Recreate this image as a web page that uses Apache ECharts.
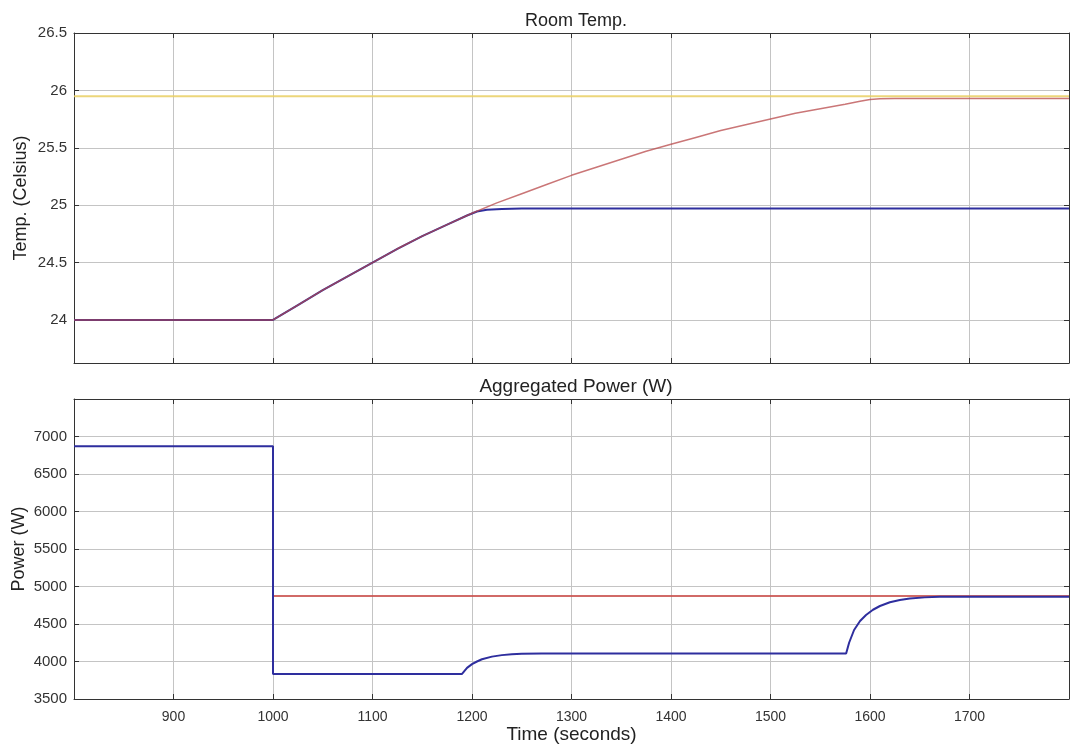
<!DOCTYPE html>
<html>
<head>
<meta charset="utf-8">
<script src="https://cdn.jsdelivr.net/npm/echarts@6/dist/echarts.min.js"></script>
<style>
html,body{margin:0;padding:0;background:#fff;}
#c{width:1073px;height:744px;}
</style>
</head>
<body>
<div id="c"></div>
<script>
// ---- Data ----
const xTicks = [900, 1000, 1100, 1200, 1300, 1400, 1500, 1600, 1700];
const tempTicks = [24, 24.5, 25, 25.5, 26, 26.5];
const powerTicks = [3500, 4000, 4500, 5000, 5500, 6000, 6500, 7000];

// Room temperature subplot
const tempSetpointTime = [800, 1800];
const tempSetpoint = [25.95, 25.95];

const tempRedTime = [800, 1000, 1025, 1050, 1075, 1100, 1125, 1150, 1175, 1200, 1225, 1250, 1275, 1300, 1325, 1350, 1375, 1400, 1425, 1450, 1475, 1500, 1525, 1550, 1575, 1590, 1600, 1610, 1625, 1800];
const tempRed = [24.0, 24.0, 24.13, 24.26, 24.38, 24.50, 24.62, 24.73, 24.83, 24.93, 25.02, 25.10, 25.18, 25.26, 25.33, 25.40, 25.47, 25.53, 25.59, 25.65, 25.70, 25.75, 25.80, 25.84, 25.88, 25.905, 25.92, 25.928, 25.93, 25.93];

const tempBlueTime = [800, 1000, 1025, 1050, 1075, 1100, 1125, 1150, 1175, 1195, 1205, 1215, 1230, 1250, 1800];
const tempBlue = [24.0, 24.0, 24.13, 24.26, 24.38, 24.50, 24.62, 24.73, 24.83, 24.91, 24.945, 24.96, 24.967, 24.97, 24.97];

// Aggregated power subplot
const powerRedTime = [1000, 1800];
const powerRed = [4875, 4875];

const powerBlueTime = [800, 1000, 1000, 1190, 1195, 1200, 1205, 1210, 1220, 1230, 1240, 1250, 1270, 1300, 1576, 1579, 1584, 1590, 1596, 1603, 1610, 1620, 1630, 1640, 1655, 1670, 1700, 1800];
const powerBlue = [6870, 6870, 3835, 3835, 3915, 3965, 4000, 4030, 4065, 4085, 4097, 4103, 4107, 4108, 4108, 4250, 4420, 4540, 4620, 4690, 4740, 4790, 4820, 4840, 4855, 4862, 4865, 4865];

// ---- helpers ----
function zip(t, v) { return t.map((x, i) => [x, v[i]]); }
const plain = v => String(v);

const FONT = "'Liberation Sans', Arial, sans-serif";
const axisLineStyle = { color: '#333', width: 1 };
const gridLineStyle = { color: '#c4c4c4', width: 1 };

function mainX(gridIndex, showLabels) {
  return {
    type: 'value', gridIndex, min: 800, max: 1800,
    axisLine: { show: true, onZero: false, lineStyle: axisLineStyle },
    axisTick: { show: true, inside: true, length: 5, lineStyle: axisLineStyle, customValues: xTicks },
    axisLabel: { show: showLabels, color: '#333', fontSize: 14, fontFamily: FONT, margin: 11,
                 formatter: plain, customValues: xTicks },
    splitLine: { show: true, lineStyle: gridLineStyle },
    name: showLabels ? 'Time (seconds)' : '',
    nameLocation: 'middle', nameGap: 26,
    nameTextStyle: { color: '#222', fontSize: 19, fontFamily: FONT }
  };
}
function boxX(gridIndex) {
  return {
    type: 'value', gridIndex, position: 'top', min: 800, max: 1800,
    axisLine: { show: true, onZero: false, lineStyle: axisLineStyle },
    axisTick: { show: true, inside: true, length: 5, lineStyle: axisLineStyle, customValues: xTicks },
    axisLabel: { show: false }, splitLine: { show: false }
  };
}
function mainY(gridIndex, min, max, ticks, name, nameGap, nameSize) {
  return {
    type: 'value', gridIndex, min, max,
    axisLine: { show: true, onZero: false, lineStyle: axisLineStyle },
    axisTick: { show: true, inside: true, length: 5, lineStyle: axisLineStyle, customValues: ticks },
    axisLabel: { color: '#333', fontSize: 15, fontFamily: FONT, margin: 7,
                 formatter: plain, customValues: ticks },
    splitLine: { show: true, lineStyle: gridLineStyle },
    name, nameLocation: 'middle', nameGap, nameMoveOverlap: false,
    nameTextStyle: { color: '#222', fontSize: nameSize, fontFamily: FONT }
  };
}
function boxY(gridIndex, min, max, ticks) {
  return {
    type: 'value', gridIndex, position: 'right', min, max,
    axisLine: { show: true, onZero: false, lineStyle: axisLineStyle },
    axisTick: { show: true, inside: true, length: 5, lineStyle: axisLineStyle, customValues: ticks },
    axisLabel: { show: false }, splitLine: { show: false }
  };
}

const chart = echarts.init(document.getElementById('c'), null, { renderer: 'canvas' });

const option = {
  animation: false,
  backgroundColor: '#fff',
  title: [
    { text: 'Room Temp.', left: 571, top: 7, textAlign: 'center',
      textStyle: { fontSize: 18, fontWeight: 'normal', color: '#222', fontFamily: FONT } },
    { text: 'Aggregated Power (W)', left: 571, top: 372, textAlign: 'center',
      textStyle: { fontSize: 19, fontWeight: 'normal', color: '#222', fontFamily: FONT } }
  ],
  grid: [
    { left: 74, right: 4, top: 33, height: 330, outerBoundsMode: 'none', containLabel: false },
    { left: 74, right: 4, top: 399, height: 300, outerBoundsMode: 'none', containLabel: false }
  ],
  xAxis: [mainX(0, false), mainX(1, true), boxX(0), boxX(1)],
  yAxis: [
    mainY(0, 23.625, 26.5, tempTicks, 'Temp. (Celsius)', 44, 18),
    mainY(1, 3500, 7500, powerTicks, 'Power (W)', 46, 18),
    boxY(0, 23.625, 26.5, tempTicks),
    boxY(1, 3500, 7500, powerTicks)
  ],
  series: [
    { type: 'line', xAxisIndex: 0, yAxisIndex: 0, data: zip(tempSetpointTime, tempSetpoint),
      symbol: 'none', lineStyle: { color: '#e9cf63', width: 2, opacity: 0.85 } },
    { type: 'line', xAxisIndex: 0, yAxisIndex: 0, data: zip(tempBlueTime, tempBlue),
      symbol: 'none', lineStyle: { color: '#2e2e9e', width: 2 } },
    { type: 'line', xAxisIndex: 0, yAxisIndex: 0, data: zip(tempRedTime, tempRed),
      symbol: 'none', lineStyle: { color: '#b8484a', width: 1.5, opacity: 0.75 } },
    { type: 'line', xAxisIndex: 1, yAxisIndex: 1, data: zip(powerRedTime, powerRed),
      symbol: 'none', lineStyle: { color: '#c9504c', width: 2, opacity: 0.85 } },
    { type: 'line', xAxisIndex: 1, yAxisIndex: 1, data: zip(powerBlueTime, powerBlue),
      symbol: 'none', lineStyle: { color: '#2e2e9e', width: 2 } }
  ]
};
chart.setOption(option);
</script>
</body>
</html>
